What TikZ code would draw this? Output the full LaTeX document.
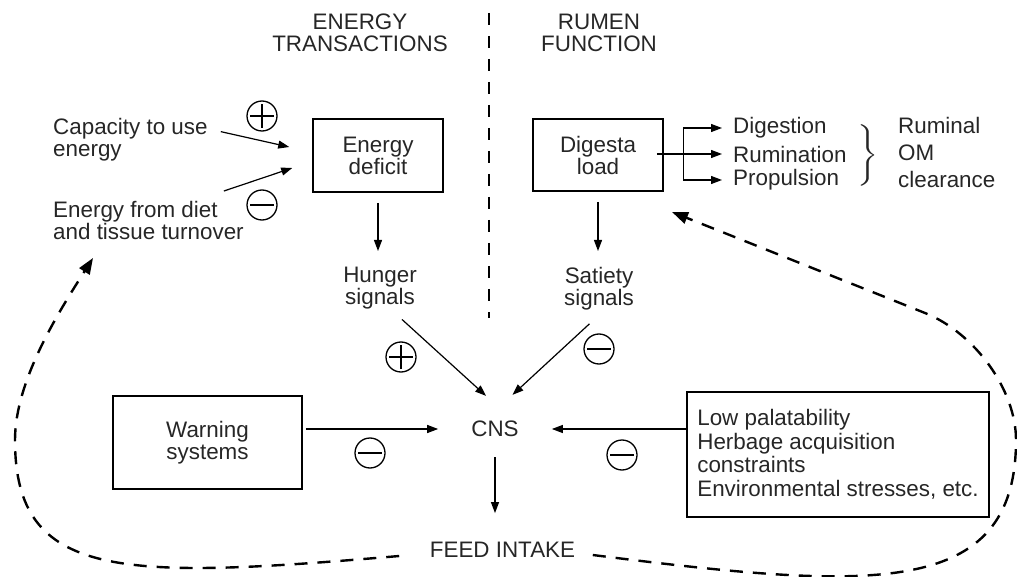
\documentclass[tikz,border=0pt]{standalone}
\usepackage{fontspec}
\setmainfont{Liberation Sans}
\usepackage{graphicx}
\usetikzlibrary{calc}
\usetikzlibrary{positioning}
\usetikzlibrary{arrows.meta}

\begin{document}
\begin{tikzpicture}[x=1pt,y=-1pt,font=\fontsize{22.4}{22}\selectfont,
every node/.style={inner sep=3pt,text=black!85},
box/.style={draw,line width=1.6pt,align=center},
txt/.style={inner sep=0pt},
arr/.style={line width=1.2pt,-{Triangle[length=11pt,width=8pt]}},
fb/.style={line width=2.4pt,dash pattern=on 13pt off 10pt,-{Triangle[length=16pt,width=12pt]}},
signcirc/.style={circle,draw,line width=1.3pt,minimum size=30pt,inner sep=0pt},
plussign/.style={signcirc,path picture={\draw[line width=1.3pt] ([xshift=-12pt]path picture bounding box.center) -- ([xshift=12pt]path picture bounding box.center) ([yshift=-12pt]path picture bounding box.center) -- ([yshift=12pt]path picture bounding box.center);}},
minussign/.style={signcirc,path picture={\draw[line width=1.3pt] ([xshift=-12pt]path picture bounding box.center) -- ([xshift=12pt]path picture bounding box.center);}}]

\useasboundingbox (0,0) rectangle (1017,577);

\node[align=center] (energyhead) at (360,33) {ENERGY\\TRANSACTIONS};
\node[align=center] (rumenhead) at (599,33) {RUMEN\\FUNCTION};
\draw[line width=2.8pt,dash pattern=on 12pt off 11pt] (489,13) -- (489,318);

\node[box,minimum width=130pt,minimum height=73pt] (deficit) at (378,155.5) {Energy\\deficit};
\node[box,minimum width=130pt,minimum height=72pt] (digesta) at (598,155) {Digesta\\load};

\node[txt,align=left,anchor=north west] (capacity) at (53,118) {Capacity to use\\energy};
\node[txt,align=left,anchor=north west] (diet) at (53,201) {Energy from diet\\and tissue turnover};
\node[plussign] (capplus) at (262,116) {};
\node[minussign] (dietminus) at (262,205) {};
\draw[arr] ($(capacity.east)+(13,-8)$) -- ($(deficit.west)+(-23,-8.5)$);
\draw[arr] ($(diet.north east)+(-20,-10)$) -- ($(deficit.west)+(-20,12.5)$);

\node[txt,align=center,anchor=north] (hunger) at (380,267) {Hunger\\signals};
\node[txt,align=center,anchor=north] (satiety) at (599,267) {Satiety\\signals};
\draw[arr,shorten <=10pt,shorten >=16pt] (deficit.south) -- (deficit.south |- hunger.north);
\draw[arr,shorten <=10pt,shorten >=16pt] (digesta.south) -- (digesta.south |- satiety.north);

\node[txt,anchor=west] (rumination) at (733,154) {Rumination};
\node[txt,above=26pt of rumination.west,anchor=west] (digestion) {Digestion};
\node[txt,below=26pt of rumination.west,anchor=west] (propulsion) {Propulsion};
\coordinate (fork) at ($(digesta.east)+(20,0)$);
\draw[arr,shorten >=11pt] ($(digesta.east |- rumination.west)+(-7,0)$) -- (rumination.west);
\draw[arr,shorten >=11pt] (fork |- rumination.west) |- (digestion.west);
\draw[arr,shorten >=11pt] (fork |- rumination.west) |- (propulsion.west);
\node[txt] (brace) at (866,156) {\fontsize{10}{10}\selectfont\scalebox{2.6}[2.05]{$\left.\vrule height 13pt depth 13pt width 0pt\right\}$}};
\node[txt,align=left,anchor=north west,font=\fontsize{22.4}{27}\selectfont] (clearance) at (898,117) {Ruminal\\OM\\clearance};

\node (cns) at (495,429) {CNS};
\node (feed) at (502.5,550) {FEED INTAKE};
\node[box,minimum width=189pt,minimum height=93pt] (warning) at (207.5,442.5) {Warning\\systems};
\node[box,align=left,minimum width=302pt,minimum height=125pt,font=\fontsize{22.4}{23.5}\selectfont] (stress) at (838,454.5) {Low palatability\\Herbage acquisition\\constraints\\Environmental stresses, etc.};

\node[plussign] (hungerplus) at (401,357) {};
\node[minussign] (satietyminus) at (599,349) {};
\node[minussign] (warningminus) at (370,453) {};
\node[minussign] (stressminus) at (622,455) {};

\draw[arr] ($(hunger.south)+(22,10)$) -- ($(cns.north)+(-9,-22)$);
\draw[arr] ($(satiety.south)+(-9.5,13.5)$) -- ($(cns.north)+(17.5,-23)$);
\draw[arr,shorten <=3pt,shorten >=30pt] (warning.east |- cns.west) -- (cns.west);
\draw[arr,shorten >=30pt] (stress.west |- cns.east) -- (cns.east);
\draw[arr,shorten <=17pt,shorten >=26pt] (cns.south) -- (cns.south |- feed.north);

\coordinate (lefttip) at (93,258);
\coordinate (righttip) at (672,212);
\draw[fb] ($(feed.west)+(-27.5,6)$) .. controls (120,580) and (15,580) .. (15,440) .. controls (15,380) and (60,310) .. (lefttip);
\draw[fb] ($(feed.east)+(14.5,5)$) .. controls (870,590) and (1016,600) .. (1016,440) .. controls (1016,390) and (975,333) .. (925,313) -- (righttip);

\end{tikzpicture}
\end{document}
